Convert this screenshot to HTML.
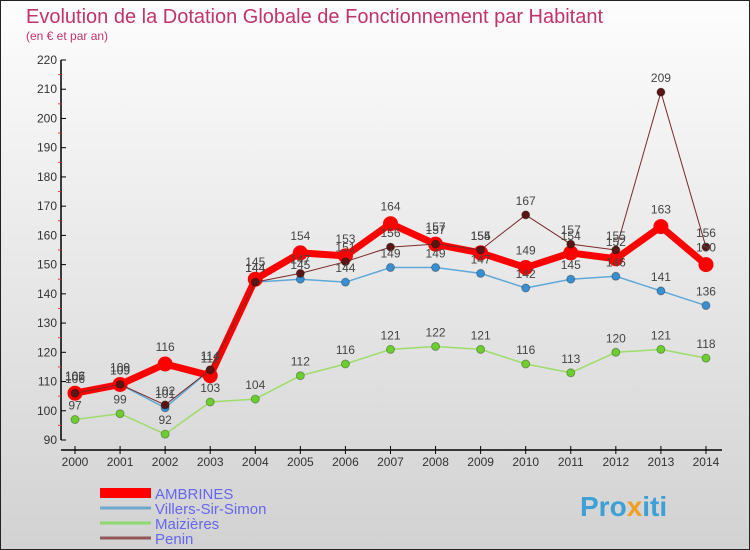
<!DOCTYPE html>
<html><head><meta charset="utf-8"><style>
body{margin:0;width:750px;height:550px;overflow:hidden;font-family:"Liberation Sans",sans-serif}
svg{display:block}
</style></head><body>
<svg id="chart" width="750" height="550" xmlns="http://www.w3.org/2000/svg">
<defs><linearGradient id="bg" x1="0" y1="0" x2="0" y2="1"><stop offset="0" stop-color="#fdfdfd"/><stop offset="1" stop-color="#d2d2d2"/></linearGradient></defs>
<rect x="0.5" y="0.5" width="749" height="549" fill="url(#bg)" stroke="#222"/>
<text x="26" y="23" font-size="20" fill="#c0336b">Evolution de la Dotation Globale de Fonctionnement par Habitant</text>
<text x="26" y="40" font-size="12" fill="#c0336b">(en € et par an)</text>
<g id="axes"></g><g id="series"></g><g id="labels"></g>
<g id="legend"></g>
<text x="580" y="516" font-size="28" font-weight="bold" fill="#3fa0d8">Pro<tspan fill="#f0a020">x</tspan>iti</text>
</svg>
<script>
const years=[2000,2001,2002,2003,2004,2005,2006,2007,2008,2009,2010,2011,2012,2013,2014];
const yTicks=[90,100,110,120,130,140,150,160,170,180,190,200,210,220];
const ambrines=[106,109,116,112,145,154,153,164,157,154,149,154,152,163,150];
const villers=[107,109,101,114,144,145,144,149,149,147,142,145,146,141,136];
const maizieres=[97,99,92,103,104,112,116,121,122,121,116,113,120,121,118];
const penin=[106,109,102,114,144,147,151,156,157,155,167,157,155,209,156];
const names=["AMBRINES","Villers-Sir-Simon","Maizières","Penin"];

const NS="http://www.w3.org/2000/svg";
const X=i=>75+i*45.07;
const Y=v=>440-(v-90)*380/130;
function mk(tag,attrs,parent,text){const e=document.createElementNS(NS,tag);for(const k in attrs)e.setAttribute(k,attrs[k]);if(text!==undefined)e.textContent=text;parent.appendChild(e);return e;}
const axes=document.getElementById('axes');
let a=mk('line',{x1:61,y1:Y(220),x2:61,y2:Y(90),stroke:'#000','stroke-width':1.5},axes);

yTicks.forEach((t,i)=>{
  mk('line',{x1:61,y1:Y(t),x2:66,y2:Y(t),stroke:'#000'},axes);
  let l=mk('text',{x:57,y:Y(t)+4,'font-size':12,'text-anchor':'end',fill:'#333'},axes,t);
  
  if(i<yTicks.length-1)mk('line',{x1:58,y1:Y(t+5),x2:61,y2:Y(t+5),stroke:'#e33'},axes);
});
a=mk('line',{x1:61,y1:450,x2:722,y2:450,stroke:'#000','stroke-width':1.5},axes);

years.forEach((yr,i)=>{
  mk('line',{x1:X(i),y1:446,x2:X(i),y2:454,stroke:'#000'},axes);
  let l=mk('text',{x:X(i),y:466,'font-size':12,'text-anchor':'middle',fill:'#333'},axes,yr);
  
});
const ser=document.getElementById('series'),lab=document.getElementById('labels');
const cfg=[[maizieres,'#9ddc6a','#6ccf2f',1.5,4,'maizieres'],[villers,'#5fa8d8','#3a8fd0',1.5,4,'villers-sir-simon'],[ambrines,'#f00','#f00',7,7.5,'ambrines'],[penin,'#7a2a2a','#5a1515',1,4,'penin']];
cfg.forEach(([d,lc,pc,w,r,n])=>{
  const g=mk('g',{},ser);
  
  const p=mk('polyline',{points:d.map((v,i)=>X(i)+','+Y(v)).join(' '),fill:'none',stroke:lc,'stroke-width':w,'stroke-linejoin':'round'},g);
  
  d.forEach((v,i)=>{
    const c=mk('circle',{cx:X(i),cy:Y(v),r:r,fill:pc,stroke:n=='ambrines'?'none':'rgba(0,0,0,0.3)'},g);
    
    const t=mk('text',{x:X(i),y:Y(v)-(n=='ambrines'?13:10),'font-size':12,'text-anchor':'middle',fill:'#444'},lab,v);
    
  });
});
const leg=document.getElementById('legend');
const lcols=['#f00','#6fa8cc','#8fd870','#905858'],lw=[10,3,3,3];
names.forEach((nm,i)=>{
  const y=493+i*15;
  const g=mk('g',{},leg);
  
  mk('line',{x1:100,y1:y,x2:151,y2:y,stroke:lcols[i],'stroke-width':lw[i]},g);
  mk('text',{x:155,y:y+6,'font-size':15,fill:'#6666ee'},g,nm);
});
</script>
</body></html>
